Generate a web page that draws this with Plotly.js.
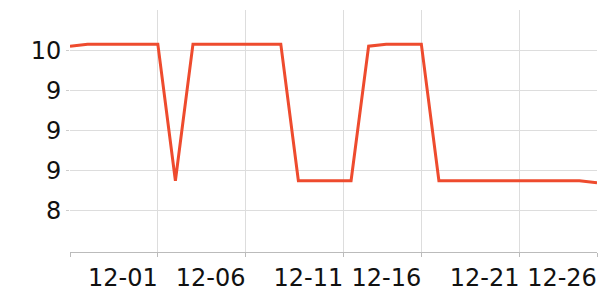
<!DOCTYPE html>
<html>
<head>
<meta charset="utf-8">
<script src="https://cdn.plot.ly/plotly-3.0.1.min.js"></script>
<style>html,body{margin:0;padding:0;background:#fff}#chart{width:600px;height:300px}</style>
</head>
<body>
<div id="chart"></div>
<script>
const dates = ["11-26","11-27","11-28","11-29","11-30","12-01","12-02","12-03","12-04","12-05",
  "12-06","12-07","12-08","12-09","12-10","12-11","12-12","12-13","12-14","12-15",
  "12-16","12-17","12-18","12-19","12-20","12-21","12-22","12-23","12-24","12-25","12-26"];
const values = [9.84,9.86,9.86,9.86,9.86,9.86,8.50,9.86,9.86,9.86,
  9.86,9.86,9.86,8.50,8.50,8.50,8.50,9.84,9.86,9.86,
  9.86,8.50,8.50,8.50,8.50,8.50,8.50,8.50,8.50,8.50,8.48];
const xTickLabels = ["", "12-01", "12-06", "12-11", "12-16", "12-21", "12-26"];
const yTickValues = [9.8, 9.4, 9.0, 8.6, 8.2];

const font = {family: "DejaVu Sans", size: 24, color: "#111"};
Plotly.newPlot("chart", [{
  x: dates, y: values, type: "scatter", mode: "lines",
  line: {color: "#ee4b2e", width: 3}
}], {
  width: 600, height: 300,
  margin: {l: 70, r: 3, t: 10, b: 48},
  paper_bgcolor: "#fff", plot_bgcolor: "#fff",
  showlegend: false,
  xaxis: {
    type: "category", range: [0, 30],
    tickmode: "array", tickvals: [0, 5, 10, 15.56, 20, 25.6, 30], ticktext: xTickLabels,
    ticklabelshift: -35,
    showgrid: true, gridcolor: "#dddddd", gridwidth: 1,
    showline: true, linecolor: "#bbbbbb", linewidth: 1,
    ticks: "outside", ticklen: 4, tickcolor: "#bbbbbb",
    tickfont: font, zeroline: false
  },
  yaxis: {
    range: [7.79, 10.2],
    tickmode: "array", tickvals: yTickValues, tickformat: ".0f",
    showgrid: true, gridcolor: "#dddddd", gridwidth: 1,
    showline: false, zeroline: false,
    ticks: "outside", ticklen: 3, tickcolor: "#cccccc",
    tickfont: font
  }
}, {displayModeBar: false, staticPlot: true});
</script>
</body>
</html>
